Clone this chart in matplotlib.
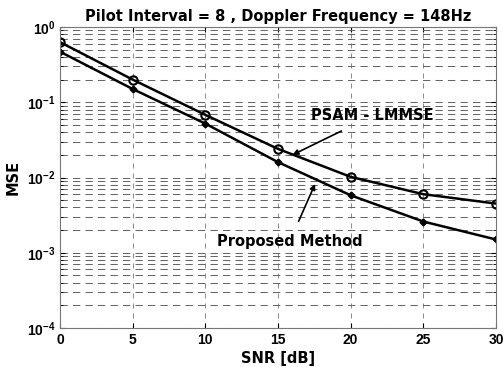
import numpy as np
import matplotlib
matplotlib.use("Agg")
from matplotlib import pyplot as plt
from matplotlib.ticker import LogLocator, NullFormatter

plt.rcParams['font.family'] = ['Liberation Sans', 'DejaVu Sans']
plt.rcParams['font.weight'] = 'bold'

# values
snr = [0, 5, 10, 15, 20, 25, 30]
mse_psam = [0.63, 0.20, 0.068, 0.024, 0.0102, 0.0060, 0.0045]
mse_proposed = [0.47, 0.15, 0.052, 0.016, 0.0058, 0.0026, 0.0015]

title = "Pilot Interval = 8 , Doppler Frequency = 148Hz"
x_ticks = [0, 5, 10, 15, 20, 25, 30]

wide = 'DejaVu Sans'

fig = plt.figure(figsize=(5.03, 3.67), dpi=100)
ax = fig.add_axes([60/503, 1-328/367, 436/503, 301/367])

ax.semilogy(snr, mse_psam, color='black', lw=1.8, marker='o', ms=6,
            mfc='none', mew=1.5)
ax.semilogy(snr, mse_proposed, color='black', lw=1.8, marker='D', ms=3.5)

ax.set_xlim(0, 30)
ax.set_ylim(1e-4, 1)
ax.set_xticks(x_ticks)
ax.yaxis.set_major_locator(LogLocator(base=10, numticks=10))
ax.yaxis.set_minor_locator(LogLocator(base=10, subs=np.arange(2, 10), numticks=20))
ax.yaxis.set_minor_formatter(NullFormatter())

ax.grid(True, which='major', axis='x', ls=(0, (6, 6)), color='#777777', lw=0.6)
ax.grid(True, which='both', axis='y', ls=(0, (7, 5)), color='#666666', lw=0.75)
ax.tick_params(direction='in', which='both', labelsize=10, top=True, right=True)
ax.tick_params(which='minor', length=2)
for lab in ax.get_xticklabels() + ax.get_yticklabels():
    lab.set_fontweight('bold')
for sp in ax.spines.values():
    sp.set_color('#777777')

ax.set_title(title, fontsize=10.5, fontweight='bold', family=wide, pad=4)
ax.set_xlabel("SNR [dB]", fontsize=10.5, fontweight='bold', family=wide, labelpad=3)
ax.set_ylabel("MSE", fontsize=10.5, fontweight='bold', family=wide, labelpad=4)

ax.annotate("PSAM - LMMSE", xy=(16.0, 0.020), xytext=(21.5, 0.066),
            fontsize=10.5, fontweight='bold', family=wide, ha='center', va='center',
            arrowprops=dict(arrowstyle='-|>', color='black', lw=1.2,
                            shrinkA=8, shrinkB=0, mutation_scale=8))
ax.annotate("Proposed Method", xy=(17.55, 0.0082), xytext=(15.8, 0.0014),
            fontsize=10.5, fontweight='bold', family=wide, ha='center', va='center',
            arrowprops=dict(arrowstyle='-|>', color='black', lw=1.2,
                            shrinkA=8, shrinkB=0, mutation_scale=8))

fig.savefig("out.png", dpi=100)
